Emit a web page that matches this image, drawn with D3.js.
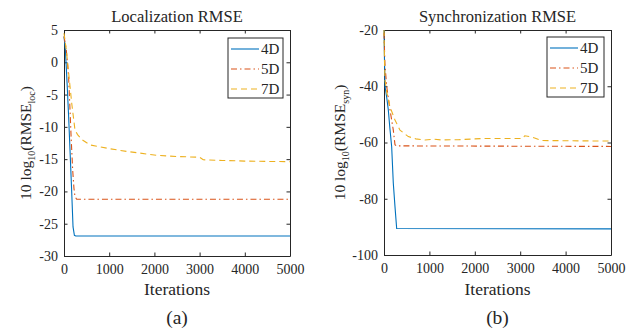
<!DOCTYPE html>
<html><head><meta charset="utf-8">
<script src="https://cdn.jsdelivr.net/npm/d3@7"></script>
<style>body{margin:0;background:#fff}svg{display:block}text{font-family:"Liberation Serif","Times New Roman",serif;fill:#262626}</style>
</head><body><svg id="c" width="638" height="332"></svg>
<script>
// ---- data ----
const seriesNames = ["4D", "5D", "7D"];
const xTicks = [0, 1000, 2000, 3000, 4000, 5000];

// Localization RMSE (dB)
const loc4D_it = [0, 30, 70, 100, 133, 170, 200, 230, 260, 5000];
const loc4D_v  = [4, 2, -3.5, -8, -13.6, -20, -25.5, -26.8, -26.9, -26.9];
const loc5D_it = [0, 50, 100, 133, 160, 192, 220, 243, 280, 5000];
const loc5D_v  = [4, 2, -2, -7.4, -12, -16.7, -19.5, -20.8, -21.2, -21.2];
const loc7D_it = [0, 50, 96, 170, 243, 300, 400, 575, 800, 1018, 1386, 2050, 2500, 3000, 3080, 3500, 4000, 5000];
const loc7D_v  = [4.5, 2, -1.2, -6.3, -10.5, -11.2, -12.0, -12.8, -13.1, -13.4, -13.8, -14.4, -14.6, -14.7, -15.1, -15.2, -15.3, -15.4];
const locYTicks = [5, 0, -5, -10, -15, -20, -25, -30];

// Synchronization RMSE (dB)
const syn4D_it = [0, 10, 22, 60, 95, 130, 169, 205, 242, 279, 5000];
const syn4D_v  = [-20, -30, -40, -44, -48.4, -55, -61.5, -74.5, -82.8, -90.6, -90.7];
const syn5D_it = [0, 20, 59, 132, 205, 242, 270, 5000];
const syn5D_v  = [-21, -32, -40, -48.4, -55.6, -60.8, -61.2, -61.4];
const syn7D_it = [0, 10, 22, 60, 132, 242, 352, 535, 700, 903, 1100, 1270, 1637, 1777, 2137, 3000, 3060, 3100, 3200, 3318, 3460, 5000];
const syn7D_v  = [-20, -30, -37.8, -42, -47.3, -52, -55.6, -57.9, -58.7, -59.1, -58.8, -59.1, -59, -58.9, -58.6, -58.6, -58.5, -57.6, -57.9, -58.4, -59.3, -59.5];
const synYTicks = [-20, -40, -60, -80, -100];

const colors = ["#0072BD", "#D95319", "#EDB120"];
const dashes = [null, "6,3,1.5,3", "6,4"];

const svg = d3.select("#c");

function panel(o) {
  const x = d3.scaleLinear().domain([0, 5000]).range([o.left, o.right]);
  const y = d3.scaleLinear().domain(o.ydom).range([o.bottom, o.top]);
  const g = svg.append("g");
  const axc = "#262626";
  const ax = g.append("g").attr("transform", `translate(0,${o.bottom})`)
    .call(d3.axisBottom(x).tickValues(xTicks).tickSizeInner(-3.5).tickSizeOuter(0).tickPadding(8).tickFormat(d3.format("d")));
  const axT = g.append("g").attr("transform", `translate(0,${o.top})`)
    .call(d3.axisTop(x).tickValues(xTicks).tickSizeInner(-3.5).tickSizeOuter(0).tickFormat(""));
  const ay = g.append("g").attr("transform", `translate(${o.left},0)`)
    .call(d3.axisLeft(y).tickValues(o.yticks).tickSizeInner(-3.5).tickSizeOuter(0).tickPadding(6).tickFormat(d3.format("d")));
  const ayR = g.append("g").attr("transform", `translate(${o.right},0)`)
    .call(d3.axisRight(y).tickValues(o.yticks).tickSizeInner(-3.5).tickSizeOuter(0).tickFormat(""));
  [ax, axT, ay, ayR].forEach(a => {
    a.select(".domain").attr("stroke", axc).attr("stroke-width", 1);
    a.selectAll(".tick line").attr("stroke", axc);
    a.selectAll("text").attr("font-size", 14).attr("font-family", "Liberation Serif").attr("fill", axc);
  });
  ay.selectAll("text").text(d => d < 0 ? "-" + Math.abs(d) : d);

  const line = d3.line().x(d => x(d[0])).y(d => y(d[1]));
  o.series.forEach((s, i) => {
    const pts = s.it.map((t, k) => [t, s.v[k]]);
    g.append("path").datum(pts).attr("d", line).attr("fill", "none")
      .attr("stroke", colors[i]).attr("stroke-width", 1.1)
      .attr("stroke-dasharray", dashes[i]);
  });

  g.append("text").attr("x", (o.left + o.right) / 2).attr("y", 22).attr("text-anchor", "middle")
    .attr("font-size", 16.5).text(o.title);
  g.append("text").attr("x", (o.left + o.right) / 2).attr("y", 295).attr("text-anchor", "middle")
    .attr("font-size", 17.5).text("Iterations");
  g.append("text").attr("x", (o.left + o.right) / 2).attr("y", 324).attr("text-anchor", "middle")
    .attr("font-size", 19.5).text(o.sub);
  const yl = g.append("text").attr("transform", `translate(${o.ylabx},${(o.top + o.bottom) / 2}) rotate(-90)`)
    .attr("text-anchor", "middle").attr("font-size", 15.5);
  yl.append("tspan").text("10 log");
  yl.append("tspan").attr("font-size", 10).attr("dy", 4).text("10");
  yl.append("tspan").attr("dy", -4).text("(RMSE");
  yl.append("tspan").attr("font-size", 10).attr("dy", 4).text(o.subscript);
  yl.append("tspan").attr("dy", -4).text(")");

  const lg = g.append("g").attr("transform", `translate(${o.lx},${o.ly})`);
  lg.append("rect").attr("width", o.lw).attr("height", 60).attr("fill", "#fff").attr("stroke", axc).attr("stroke-width", 1);
  seriesNames.forEach((nm, i) => {
    const yy = 11 + i * 20;
    lg.append("line").attr("x1", 3).attr("x2", 31).attr("y1", yy).attr("y2", yy)
      .attr("stroke", colors[i]).attr("stroke-width", 1.1).attr("stroke-dasharray", dashes[i]);
    lg.append("text").attr("x", 33).attr("y", yy + 5).attr("font-size", 15).text(nm);
  });
}

panel({left: 64, right: 290, top: 30, bottom: 256, ydom: [-30, 5], yticks: locYTicks,
  title: "Localization RMSE", sub: "(a)", subscript: "loc", ylabx: 31, lx: 228, ly: 38, lw: 55,
  series: [{it: loc4D_it, v: loc4D_v}, {it: loc5D_it, v: loc5D_v}, {it: loc7D_it, v: loc7D_v}]});
panel({left: 384, right: 611, top: 30, bottom: 255, ydom: [-100, -20], yticks: synYTicks,
  title: "Synchronization RMSE", sub: "(b)", subscript: "syn", ylabx: 345, lx: 547, ly: 37, lw: 57,
  series: [{it: syn4D_it, v: syn4D_v}, {it: syn5D_it, v: syn5D_v}, {it: syn7D_it, v: syn7D_v}]});
</script></body></html>
